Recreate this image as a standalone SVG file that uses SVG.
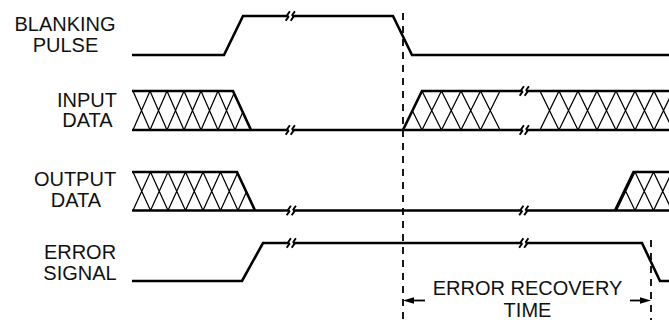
<svg xmlns="http://www.w3.org/2000/svg" width="669" height="320" viewBox="0 0 669 320">
<style>
.lbl{font-family:"Liberation Sans",Arial,Helvetica,sans-serif;font-size:20px;fill:#111;text-anchor:middle}
.sig{fill:none;stroke:#000;stroke-width:2.6;stroke-linejoin:miter}
.hatch{fill:none;stroke:#000;stroke-width:1.25}
.brk{fill:none;stroke:#000;stroke-width:1.9}
.dash{fill:none;stroke:#000;stroke-width:1.8;stroke-dasharray:7 6}
.arr{fill:none;stroke:#000;stroke-width:1.8}
</style>
<defs>
<path id="bk" d="M2.4,-4.8 L-0.2,-1 L0.9,0.9 L-1.8,4.8"/>
<clipPath id="c1"><polygon points="132,91 233,91 251,130 132,130"/></clipPath>
<clipPath id="c2"><polygon points="403,130 422,91 500.5,91 500.5,130"/></clipPath>
<clipPath id="c3"><polygon points="540,91 669,91 669,130 540,130"/></clipPath>
<clipPath id="c4"><polygon points="132,172 237,172 255,210.5 132,210.5"/></clipPath>
<clipPath id="c5"><polygon points="615,210.5 633.5,172 669,172 669,210.5"/></clipPath>
</defs>
<rect width="669" height="320" fill="#fff"/>

<g id="blanking-pulse">
<text class="lbl" x="65" y="30.5">BLANKING</text>
<text class="lbl" x="65.5" y="52.3">PULSE</text>
<path class="sig" d="M132,55 H224 L243,16 H287.5"/>
<path class="sig" d="M292.5,16 H393 L412,55 H669"/>
<use href="#bk" class="brk" x="287.5" y="16"/>
<use href="#bk" class="brk" x="292.5" y="16"/>
</g>

<g id="input-data">
<text class="lbl" x="87" y="106.5">INPUT</text>
<text class="lbl" x="87.5" y="127.3">DATA</text>
<path class="sig" d="M132,91 H233 L251,130"/>
<path class="sig" d="M132,130 H287.5 M292.5,130 H521.5 M526.5,130 H669"/>
<path class="sig" d="M403,130 L422,91 H521.5 M526.5,91 H669"/>
<use href="#bk" class="brk" x="287.5" y="130"/>
<use href="#bk" class="brk" x="292.5" y="130"/>
<use href="#bk" class="brk" x="521.5" y="91"/>
<use href="#bk" class="brk" x="526.5" y="91"/>
<use href="#bk" class="brk" x="521.5" y="130"/>
<use href="#bk" class="brk" x="526.5" y="130"/>
<g class="hatch" clip-path="url(#c1)">
<path d="M133,91L150,130M150,91L133,130M150,91L167,130M167,91L150,130M167,91L184,130M184,91L167,130M184,91L201,130M201,91L184,130M201,91L218,130M218,91L201,130M218,91L235,130M235,91L218,130M235,91L252,130M252,91L235,130"/>
</g>
<g class="hatch" clip-path="url(#c2)">
<path d="M402.5,91L422,130M422,91L402.5,130M422,91L441.5,130M441.5,91L422,130M441.5,91L461,130M461,91L441.5,130M461,91L480.5,130M480.5,91L461,130M480.5,91L500,130M500,91L480.5,130"/>
</g>
<g class="hatch" clip-path="url(#c3)">
<path d="M540,91L559,130M559,91L540,130M559,91L578,130M578,91L559,130M578,91L597,130M597,91L578,130M597,91L616,130M616,91L597,130M616,91L635,130M635,91L616,130M635,91L654,130M654,91L635,130M654,91L673,130M673,91L654,130"/>
</g>
</g>

<g id="output-data">
<text class="lbl" x="75" y="186.3">OUTPUT</text>
<text class="lbl" x="76" y="207">DATA</text>
<path class="sig" d="M132,172 H237 L255,210.5"/>
<path class="sig" d="M132,210.5 H288.5 M293.5,210.5 H521 M526,210.5 H669"/>
<path class="sig" d="M615,210.5 L633.5,172 H669"/>
<use href="#bk" class="brk" x="288.5" y="210.5"/>
<use href="#bk" class="brk" x="293.5" y="210.5"/>
<use href="#bk" class="brk" x="521" y="210.5"/>
<use href="#bk" class="brk" x="526" y="210.5"/>
<g class="hatch" clip-path="url(#c4)">
<path d="M133,172L150.5,210.5M150.5,172L133,210.5M150.5,172L168,210.5M168,172L150.5,210.5M168,172L185.5,210.5M185.5,172L168,210.5M185.5,172L203,210.5M203,172L185.5,210.5M203,172L220.5,210.5M220.5,172L203,210.5M220.5,172L238,210.5M238,172L220.5,210.5M238,172L255.5,210.5M255.5,172L238,210.5"/>
</g>
<g class="hatch" clip-path="url(#c5)">
<path d="M616.5,172L635,210.5M635,172L616.5,210.5M635,172L653.5,210.5M653.5,172L635,210.5M653.5,172L672,210.5M672,172L653.5,210.5"/>
</g>
</g>

<g id="error-signal">
<text class="lbl" x="80" y="259">ERROR</text>
<text class="lbl" x="80" y="280">SIGNAL</text>
<path class="sig" d="M132,281 H242 L263,243 H288.5 M293.5,243 H521 M526,243 H642 L660,281 H669"/>
<use href="#bk" class="brk" x="288.5" y="243"/>
<use href="#bk" class="brk" x="293.5" y="243"/>
<use href="#bk" class="brk" x="521" y="243"/>
<use href="#bk" class="brk" x="526" y="243"/>
</g>

<g id="connectors">
<line class="dash" x1="403" y1="13" x2="403" y2="320"/>
<line class="dash" x1="651" y1="240" x2="651" y2="320"/>
<line class="arr" x1="410" y1="300.5" x2="425" y2="300.5"/>
<polygon points="403,300.5 414,297.3 414,303.7" fill="#000"/>
<line class="arr" x1="630" y1="300.5" x2="643" y2="300.5"/>
<polygon points="651,300.5 640,297.3 640,303.7" fill="#000"/>
</g>

<g id="recovery-label">
<text class="lbl" x="527.5" y="295">ERROR RECOVERY</text>
<text class="lbl" x="527.5" y="316.7">TIME</text>
</g>
</svg>
